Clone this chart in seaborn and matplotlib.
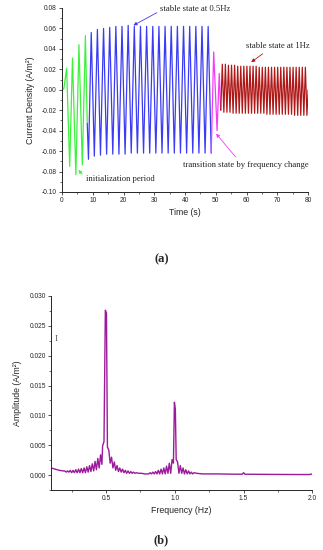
import numpy as np
import pandas as pd
import seaborn as sns
import matplotlib.pyplot as plt
from matplotlib.ticker import MultipleLocator, FuncFormatter

# ---- panel (a): extrema of the current density trace
init_t = [0.0, 0.6, 1.5, 2.5, 3.4, 4.5, 5.5, 6.6, 7.6, 8.2]
init_v = [0.0, 0.001, 0.021, -0.075, 0.031, -0.083, 0.044, -0.0735, 0.053, -0.033]

blue_t = [8.2, 8.6, 9.5, 10.5, 11.5, 12.5, 13.5, 14.5, 15.5, 16.5, 17.5, 18.5,
          19.5, 20.5, 21.5, 22.5, 23.5, 24.5, 25.5, 26.5, 27.5, 28.5, 29.5, 30.5,
          31.5, 32.5, 33.5, 34.5, 35.5, 36.5, 37.5, 38.5, 39.5, 40.5, 41.5, 42.5,
          43.5, 44.5, 45.5, 46.5, 47.5, 48.5]
blue_v = [-0.033, -0.068, 0.056, -0.065, 0.059, -0.064, 0.060, -0.063, 0.061, -0.063,
          0.062, -0.063, 0.062, -0.063, 0.063, -0.062, 0.062, -0.062, 0.062, -0.062,
          0.062, -0.062, 0.062, -0.062, 0.062, -0.062, 0.062, -0.062, 0.062, -0.062,
          0.062, -0.062, 0.062, -0.062, 0.062, -0.062, 0.062, -0.062, 0.062, -0.062,
          0.062, -0.062]

trans_t = [48.5, 49.3, 50.4, 51.1, 51.6]
trans_v = [-0.062, 0.037, -0.040, 0.016, -0.020]

red_peak_t = [52.1, 53.1, 54.1, 55.1, 56.1, 57.1, 58.1, 59.1, 60.1, 61.1, 62.1, 63.1, 64.1, 65.1,
              66.1, 67.1, 68.1, 69.1, 70.1, 71.1, 72.1, 73.1, 74.1, 75.1, 76.1, 77.1, 78.1, 79.1]
red_peak_v = [0.025, 0.025, 0.024, 0.024, 0.024, 0.023, 0.023, 0.023, 0.023, 0.023, 0.023, 0.023, 0.022, 0.022,
              0.022, 0.022, 0.022, 0.022, 0.022, 0.022, 0.022, 0.022, 0.022, 0.022, 0.022, 0.022, 0.022, 0.022]
red_trough_t = [52.6, 53.6, 54.6, 55.6, 56.6, 57.6, 58.6, 59.6, 60.6, 61.6, 62.6, 63.6, 64.6, 65.6,
                66.6, 67.6, 68.6, 69.6, 70.6, 71.6, 72.6, 73.6, 74.6, 75.6, 76.6, 77.6, 78.6, 79.6]
red_trough_v = [-0.022, -0.022, -0.022, -0.023, -0.023, -0.023, -0.023, -0.023, -0.023, -0.023, -0.023, -0.023, -0.023, -0.023,
                -0.024, -0.024, -0.024, -0.024, -0.024, -0.024, -0.024, -0.024, -0.024, -0.025, -0.025, -0.025, -0.025, -0.025]

# ---- panel (b): amplitude spectrum
freq_hz = [0.10, 0.13, 0.16, 0.19, 0.20, 0.21, 0.22, 0.23, 0.24, 0.25, 0.26, 0.27, 0.28, 0.29,
           0.30, 0.31, 0.32, 0.33, 0.34, 0.35, 0.36, 0.37, 0.38, 0.39, 0.40, 0.41, 0.42, 0.43,
           0.44, 0.45, 0.46, 0.47, 0.475, 0.485, 0.495, 0.503, 0.51, 0.52, 0.53, 0.54, 0.55,
           0.56, 0.57, 0.58, 0.59, 0.60, 0.61, 0.62, 0.63, 0.64, 0.65, 0.66, 0.67, 0.68, 0.69,
           0.70, 0.71, 0.72, 0.74, 0.76, 0.78, 0.80, 0.81, 0.82, 0.83, 0.84, 0.85, 0.86, 0.87,
           0.88, 0.89, 0.90, 0.91, 0.92, 0.93, 0.94, 0.95, 0.96, 0.97, 0.98, 0.99, 0.997, 1.004,
           1.01, 1.02, 1.03, 1.04, 1.05, 1.06, 1.07, 1.08, 1.09, 1.10, 1.11, 1.12, 1.13, 1.14,
           1.16, 1.20, 1.30, 1.45, 1.49, 1.50, 1.51, 1.70, 1.90, 1.98, 2.00]
amp = [0.0012, 0.0010, 0.0008, 0.0007, 0.0007, 0.0005, 0.0007, 0.0005, 0.0008, 0.0004, 0.0008, 0.0004, 0.0009, 0.0004,
       0.0010, 0.0004, 0.0011, 0.0004, 0.0012, 0.0004, 0.0014, 0.0005, 0.0016, 0.0006, 0.0019, 0.0007, 0.0023, 0.0009,
       0.0028, 0.0012, 0.0034, 0.0018, 0.0049, 0.0056, 0.0276, 0.0271, 0.0047, 0.0042, 0.0020, 0.0030, 0.0012,
       0.0022, 0.0008, 0.0016, 0.0006, 0.0012, 0.0005, 0.0010, 0.0004, 0.0008, 0.0003, 0.0007, 0.0003, 0.0006, 0.0003,
       0.0005, 0.0003, 0.0004, 0.0003, 0.0003, 0.0002, 0.0002, 0.0002, 0.0004, 0.0002, 0.0005, 0.0002, 0.0006, 0.0002,
       0.0008, 0.0002, 0.0010, 0.0002, 0.0012, 0.0002, 0.0015, 0.0003, 0.0020, 0.0003, 0.0026, 0.0020, 0.0122, 0.0110,
       0.0026, 0.0022, 0.0003, 0.0016, 0.0003, 0.0012, 0.0002, 0.0009, 0.0002, 0.0007, 0.0002, 0.0005, 0.0002, 0.0004,
       0.0003, 0.0002, 0.0002, 0.00015, 0.00015, 0.0004, 0.00015, 0.00012, 0.0001, 0.0001, 0.0002]

sns.set_style("ticks")
plt.rcParams['font.family'] = ['Liberation Sans', 'DejaVu Sans']
plt.rcParams['axes.linewidth'] = 0.7

fig = plt.figure(figsize=(3.23, 5.5), dpi=100)
ax1 = fig.add_axes([0.192, 0.651, 0.762, 0.3345])
ax2 = fig.add_axes([0.158, 0.109, 0.809, 0.353])

# interleave the 1 Hz peaks/troughs into one trace
red = pd.DataFrame({"t": red_peak_t + red_trough_t, "v": red_peak_v + red_trough_v}).sort_values("t")
red_t = [trans_t[-1]] + list(red["t"]) + [80.0]
red_v = [trans_v[-1]] + list(red["v"]) + [0.0]

segs = [(init_t, init_v, "#3df23d"), (blue_t, blue_v, "#3b3bf5"),
        (trans_t, trans_v, "#f53cf5"), (red_t, red_v, "#b01818")]
for t, v, c in segs:
    sns.lineplot(x=t, y=v, ax=ax1, color=c, lw=0.9, sort=False, estimator=None)

def fmt(nd):
    return FuncFormatter(lambda v, p: f"{round(v, nd) + 0.0:.{nd}f}")

ax1.set_xlim(0, 80)
ax1.set_ylim(-0.10, 0.08)
ax1.xaxis.set_major_locator(MultipleLocator(10))
ax1.xaxis.set_minor_locator(MultipleLocator(5))
ax1.yaxis.set_major_locator(MultipleLocator(0.02))
ax1.yaxis.set_minor_locator(MultipleLocator(0.01))
ax1.yaxis.set_major_formatter(fmt(2))
ax1.set_xlabel("Time (s)", fontsize=6.3, labelpad=3)
ax1.set_ylabel("Current Density (A/m²)", fontsize=6.3, labelpad=5)

ann = dict(fontsize=6.2, family=['Liberation Serif'], color="#222222", va="center")
ax1.annotate("stable state at 0.5Hz", xy=(23.2, 0.063), xytext=(31.9, 0.0787),
             arrowprops=dict(arrowstyle='-|>', color="#3b3bf5", lw=0.6, mutation_scale=5,
                             shrinkA=0, shrinkB=0, relpos=(0, 0.3)), **ann)
ax1.annotate("stable state at 1Hz", xy=(61.5, 0.027), xytext=(59.8, 0.0431),
             arrowprops=dict(arrowstyle='-|>', color="#b01818", lw=0.6, mutation_scale=5,
                             shrinkA=1, shrinkB=0, relpos=(0.35, 0)), **ann)
ax1.annotate("transition state by frequency change", xy=(50.1, -0.043), xytext=(39.2, -0.0739),
             arrowprops=dict(arrowstyle='-|>', color="#f53cf5", lw=0.6, mutation_scale=5,
                             shrinkA=1, shrinkB=0, relpos=(0.45, 1)), **ann)
ax1.annotate("initialization period", xy=(5.3, -0.0785), xytext=(7.7, -0.0876),
             arrowprops=dict(arrowstyle='-|>', color="#3df23d", lw=0.6, mutation_scale=5,
                             shrinkA=0, shrinkB=0, relpos=(0, 0.7)), **ann)

sns.lineplot(x=freq_hz, y=amp, ax=ax2, color="#9c1a9c", lw=1.0, sort=False, estimator=None)
ax2.set_xlim(0.1, 2.0)
ax2.set_ylim(-0.0025, 0.030)
ax2.xaxis.set_major_locator(MultipleLocator(0.5))
ax2.xaxis.set_minor_locator(MultipleLocator(0.25))
ax2.yaxis.set_major_locator(MultipleLocator(0.005))
ax2.yaxis.set_minor_locator(MultipleLocator(0.0025))
ax2.yaxis.set_major_formatter(fmt(3))
ax2.set_xlabel("Frequency (Hz)", fontsize=6.3, labelpad=3)
ax2.set_ylabel("Amplitude (A/m²)", fontsize=6.3, labelpad=5)
ax2.text(0.14, 0.0228, "I", fontsize=6.5, family=['Liberation Serif'], color="#555555",
         ha="center", va="center")

for ax in (ax1, ax2):
    sns.despine(ax=ax)
    ax.tick_params(which='major', length=2.2, width=0.6, labelsize=4.8, pad=1.5, color="#333333")
    ax.tick_params(which='minor', length=1.2, width=0.5, color="#333333")

fig.text(0.5, 1 - 259 / 550, "(a)", fontsize=9, fontweight='bold', family=['Liberation Serif'],
         ha="center", va="center")
fig.text(0.5, 1 - 540 / 550, "(b)", fontsize=9, fontweight='bold', family=['Liberation Serif'],
         ha="center", va="center")

fig.savefig("out.png", dpi=100)
